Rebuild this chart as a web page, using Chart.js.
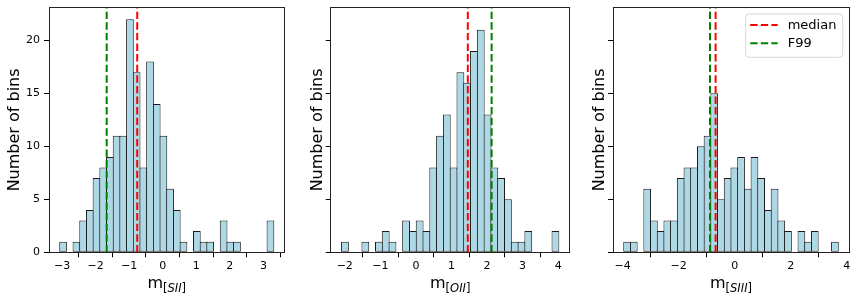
<!DOCTYPE html>
<html><head><meta charset="utf-8">
<script src="https://cdn.jsdelivr.net/npm/chart.js@4.4.1/dist/chart.umd.min.js"></script>
<style>
html,body{margin:0;padding:0;background:#fff;}
#wrap{position:relative;width:859px;height:300px;overflow:hidden;background:#fff;}
.panel{position:absolute;top:0;height:300px;}
canvas{display:block;}
</style></head><body>
<div id="wrap">
  <div class="panel" style="left:0px;width:290px"><canvas id="c1" width="290" height="300"></canvas></div>
  <div class="panel" style="left:303px;width:270px"><canvas id="c2" width="270" height="300"></canvas></div>
  <div class="panel" style="left:585px;width:274px"><canvas id="c3" width="274" height="300"></canvas></div>
</div>
<script>
// ---- data ----
const countsSII  = [1,0,1,3,4,7,8,9,11,11,22,17,8,18,14,11,6,4,1,0,2,1,1,0,3,1,1,0,0,0,0,3];
const rangeSII   = [-3.07, 3.31];
const countsOII  = [1,0,0,1,0,1,2,1,0,3,2,3,2,8,11,13,8,17,16,19,21,13,8,7,5,1,1,2,0,0,0,2];
const rangeOII   = [-2.09, 4.02];
const countsSIII = [1,1,0,6,3,2,3,3,7,8,8,10,11,15,5,7,8,9,6,9,7,4,6,3,2,0,2,1,2,0,0,1];
const rangeSIII  = [-3.96, 3.70];
const medianValues = [-0.76, 1.46, -0.68];
const f99Values    = [-1.67, 2.13, -0.88];
const ticksSII  = [-3,-2,-1,0,1,2,3];
const ticksOII  = [-2,-1,0,1,2,3,4];
const ticksSIII = [-4,-2,0,2,4];
const yTicks = [0,5,10,15,20];
const yMaxCount = 22;
const xSubLabels = ['SII','OII','SIII'];
const legendLabels = ['median','F99'];

// ---- styling ----
const FONT = '"DejaVu Sans", "Liberation Sans", sans-serif';
const PLOT_W = 236;
const yTop = yMaxCount * 1.05;

function fmt(v){ return v < 0 ? '\u2212' + Math.abs(v) : String(v); }

const xLabelPlugin = {
  id: 'xlab',
  afterDraw(chart, args, opts) {
    const {ctx, chartArea} = chart;
    const cx = (chartArea.left + chartArea.right) / 2;
    const base = 288.3;
    const parts = [
      {t:'m', f:'16px ' + FONT, dy:0},
      {t:'[', f:'11.5px ' + FONT, dy:3.8},
      {t:opts.sub, f:'italic 11.5px ' + FONT, dy:3.8},
      {t:']', f:'11.5px ' + FONT, dy:3.8}
    ];
    ctx.save();
    ctx.fillStyle = '#000';
    ctx.textBaseline = 'alphabetic';
    ctx.textAlign = 'left';
    let total = 0;
    parts.forEach(p => { ctx.font = p.f; p.w = ctx.measureText(p.t).width; total += p.w; });
    let x = cx - total / 2;
    parts.forEach(p => { ctx.font = p.f; ctx.fillText(p.t, x, base + p.dy); x += p.w; });
    ctx.restore();
  }
};

const framePlugin = {
  id: 'frame',
  afterDatasetsDraw(chart) {
    const {ctx, chartArea: a} = chart;
    const l = Math.floor(a.left) + 0.5, t = Math.floor(a.top) + 0.5;
    const r = Math.floor(a.right) + 0.5, b = Math.floor(a.bottom) + 0.5;
    ctx.save();
    ctx.strokeStyle = '#222';
    ctx.lineWidth = 1;
    ctx.strokeRect(l, t, r - l, b - t);
    ctx.restore();
  }
};

const legendPlugin = {
  id: 'boxlegend',
  afterDraw(chart, args, opts) {
    if (!opts.show) return;
    const {ctx, chartArea: a} = chart;
    const w = 97, h = 43.3;
    const x0 = a.right - 6.3 - w, y0 = a.top + 6.5;
    ctx.save();
    ctx.beginPath();
    const r = 3;
    ctx.moveTo(x0 + r, y0);
    ctx.arcTo(x0 + w, y0, x0 + w, y0 + h, r);
    ctx.arcTo(x0 + w, y0 + h, x0, y0 + h, r);
    ctx.arcTo(x0, y0 + h, x0, y0, r);
    ctx.arcTo(x0, y0, x0 + w, y0, r);
    ctx.closePath();
    ctx.fillStyle = 'rgba(255,255,255,0.8)';
    ctx.fill();
    ctx.strokeStyle = 'rgba(204,204,204,0.8)';
    ctx.lineWidth = 1;
    ctx.stroke();
    const items = [{c:'#ff0000', t:legendLabels[0]}, {c:'#008000', t:legendLabels[1]}];
    items.forEach((it, i) => {
      const yy = y0 + 11 + i * 18.3;
      ctx.beginPath();
      ctx.setLineDash([7.4, 3.2]);
      ctx.strokeStyle = it.c;
      ctx.lineWidth = 2;
      ctx.moveTo(x0 + 4.5, yy);
      ctx.lineTo(x0 + 32, yy);
      ctx.stroke();
      ctx.setLineDash([]);
      ctx.fillStyle = '#000';
      ctx.font = '13px ' + FONT;
      ctx.textBaseline = 'middle';
      ctx.fillText(it.t, x0 + 42, yy + 0.5);
    });
    ctx.restore();
  }
};

function makePanel(canvasId, counts, range, xticks, median, f99, sub, showYLabels, yAxisW, padRight, showLegend) {
  const n = counts.length;
  const bw = (range[1] - range[0]) / n;
  const margin = 0.05 * (range[1] - range[0]);
  const xmin = range[0] - margin, xmax = range[1] + margin;
  const binPx = PLOT_W * bw / (xmax - xmin);
  const barData = counts.map((c, i) => ({x: range[0] + (i + 0.5) * bw, y: c}));
  new Chart(document.getElementById(canvasId), {
    type: 'bar',
    data: {
      datasets: [
        {type:'line', data:[{x:median,y:0},{x:median,y:yTop}], borderColor:'#ff0000', borderWidth:2,
         borderDash:[7.4,3.2], pointRadius:0, fill:false, order:0},
        {type:'line', data:[{x:f99,y:0},{x:f99,y:yTop}], borderColor:'#008000', borderWidth:2,
         borderDash:[7.4,3.2], pointRadius:0, fill:false, order:0},
        {type:'bar', data: barData, backgroundColor:'#add8e6', borderColor:'#1a1a1a', borderWidth:1,
         borderSkipped:false, barPercentage:(binPx + 1) / binPx, categoryPercentage:1, order:2}
      ]
    },
    options: {
      responsive:false, maintainAspectRatio:false, animation:false,
      layout:{padding:{top:7.5, right:padRight, left:0, bottom:0}},
      plugins:{legend:{display:false}, tooltip:{enabled:false}, xlab:{sub:sub}, boxlegend:{show:showLegend}},
      scales:{
        x:{type:'linear', min:xmin, max:xmax, offset:false,
           afterBuildTicks: s => { s.ticks = xticks.map(v => ({value:v})); },
           afterFit: s => { s.height = 47.7; s.paddingLeft = 0; s.paddingRight = 0; },
           grid:{display:true, drawOnChartArea:false, drawTicks:true, tickLength:5, color:'#000', tickWidth:1},
           border:{display:false},
           ticks:{padding:2, color:'#000', font:{family:FONT, size:11}, maxRotation:0, autoSkip:false,
                  callback: v => fmt(v)}},
        y:{type:'linear', min:0, max:yTop,
           afterBuildTicks: s => { s.ticks = yTicks.map(v => ({value:v})); },
           afterFit: s => { s.width = yAxisW; s.paddingTop = 0; s.paddingBottom = 0; },
           grid:{display:true, drawOnChartArea:false, drawTicks:true, tickLength:5, color:'#000', tickWidth:1},
           border:{display:false},
           title:{display:true, text:'Number of bins', color:'#000', font:{family:FONT, size:16}, padding:{top:5,bottom:0}},
           ticks:{display:showYLabels, padding:4, color:'#000', font:{family:FONT, size:11}, callback: v => fmt(v)}}
      }
    },
    plugins:[framePlugin, xLabelPlugin, legendPlugin]
  });
}

makePanel('c1', countsSII,  rangeSII,  ticksSII,  medianValues[0], f99Values[0], xSubLabels[0], true,  49,   5.5, false);
makePanel('c2', countsOII,  rangeOII,  ticksOII,  medianValues[1], f99Values[1], xSubLabels[1], false, 27.7, 3.3, false);
makePanel('c3', countsSIII, rangeSIII, ticksSIII, medianValues[2], f99Values[2], xSubLabels[2], false, 28,   10,  true);
</script>
</body></html>
